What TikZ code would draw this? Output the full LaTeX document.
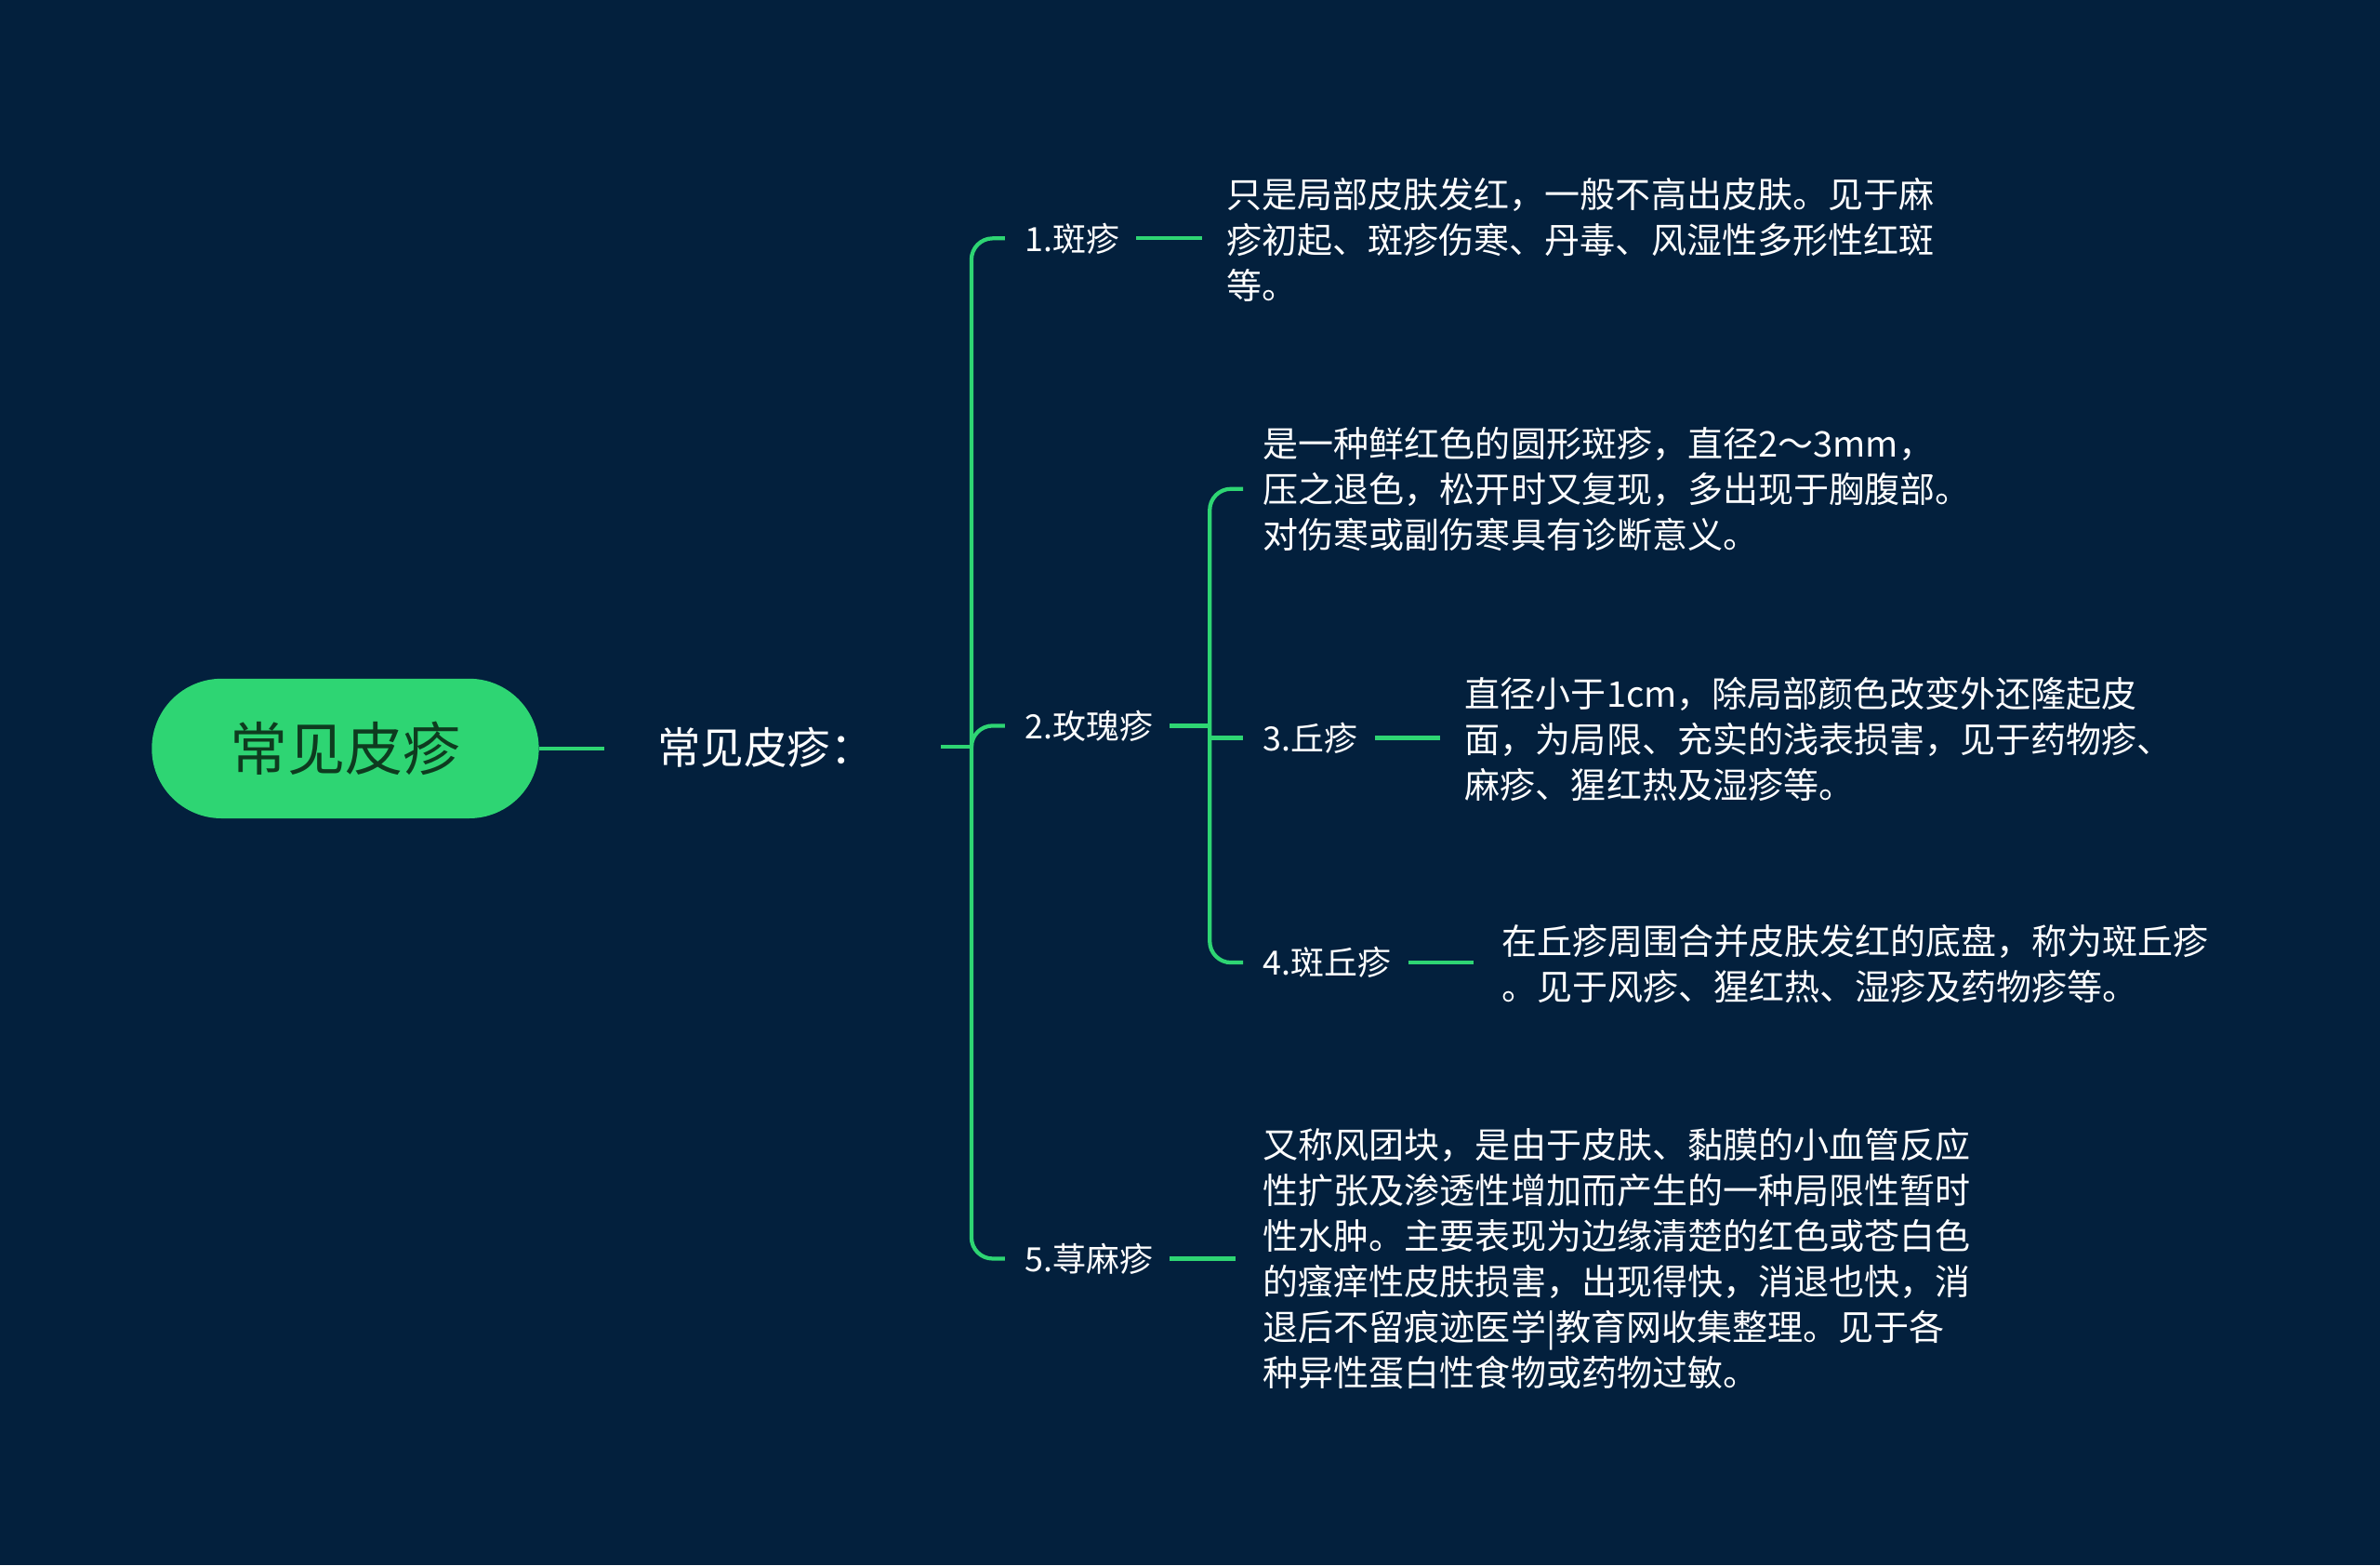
\documentclass[tikz,border=0pt]{standalone}
\usepackage{fontspec}
\setmainfont{Noto Sans CJK SC}
\usetikzlibrary{positioning}
\definecolor{bgcol}{HTML}{03203D}
\definecolor{leaf}{HTML}{2ED573}
\definecolor{rootfg}{HTML}{0E3B1F}
\tikzstyle{link} = [leaf, line width=2.6pt]
\tikzstyle{brace} = [leaf, line width=2.6pt, rounded corners=14pt]
\tikzstyle{label} = [anchor=west, inner sep=0pt, text=white, font=\fontsize{22}{30}\selectfont]
\tikzstyle{para} = [anchor=west, inner sep=0pt, text=white, align=left, font=\fontsize{23.3}{30}\selectfont]

\begin{document}
\begin{tikzpicture}[x=1pt,y=-1pt]
\fill[bgcol] (0,0) rectangle (1568,1031);
\useasboundingbox (0,0) rectangle (1568,1031);

\node (root) [fill=leaf, rounded corners=46pt, minimum width=255pt, minimum height=92pt,
    text=rootfg, font=\fontsize{38}{40}\selectfont] at (227.5,493) {常见皮疹};
\node (main) [label, font=\fontsize{28.5}{30}\selectfont] at (433,492) {常见皮疹：};

\node (banzhen) [label] at (675,157) {1.斑疹};
\node (banzhen-txt) [para] at (808,158) {只是局部皮肤发红，一般不高出皮肤。见于麻\\疹初起、斑疹伤寒、丹毒、风湿性多形性红斑\\等。};

\node (meigui) [label] at (675,478) {2.玫瑰疹};
\node (meigui-txt) [para] at (832,322) {是一种鲜红色的圆形斑疹，直径2～3mm，\\压之退色，松开时又复现，多出现于胸腹部。\\对伤寒或副伤寒具有诊断意义。};

\node (qiuzhen) [label] at (832,486) {3.丘疹};
\node (qiuzhen-txt) [para] at (965,487) {直径小于1cm，除局部颜色改变外还隆起皮\\面，为局限、充实的浅表损害，见于药物疹、\\麻疹、猩红热及湿疹等。};

\node (banqiu) [label] at (832,634) {4.斑丘疹};
\node (banqiu-txt) [para] at (989,635) {在丘疹周围合并皮肤发红的底盘，称为斑丘疹\\。见于风疹、猩红热、湿疹及药物疹等。};

\node (xunma) [label] at (675,829) {5.荨麻疹};
\node (xunma-txt) [para] at (832,829) {又称风团块，是由于皮肤、黏膜的小血管反应\\性扩张及渗透性增加而产生的一种局限性暂时\\性水肿。主要表现为边缘清楚的红色或苍白色\\的瘙痒性皮肤损害，出现得快，消退也快，消\\退后不留痕迹医学|教育网收集整理。见于各\\种异性蛋白性食物或药物过敏。};

% root to main
\draw [link] (root.east) -- ++(43,0);
% main bracket
\draw [link] (620,492) -- (640,492);
\draw [brace] (banzhen.west) ++(-13,0) -| (640,829) -- ([xshift=-13pt]xunma.west);
\draw [brace] (640,492) |- ([xshift=-13pt]meigui.west);
% leaves of level one
\draw [link] (banzhen.east) ++(11,0) -- ++(43,0);
\draw [link] (xunma.east) ++(11,0) -- ++(43,0);
\draw [link] (meigui.east) ++(11,0) -- (797,478);
% second bracket
\draw [brace] ([xshift=-13pt]meigui-txt.west) -| (797,634) -- ([xshift=-13pt]banqiu.west);
\draw [link] (797,486) -- ([xshift=-13pt]qiuzhen.west);
\draw [link] (qiuzhen.east) ++(11,0) -- ++(43,0);
\draw [link] (banqiu.east) ++(11,0) -- ++(43,0);
\end{tikzpicture}
\end{document}
